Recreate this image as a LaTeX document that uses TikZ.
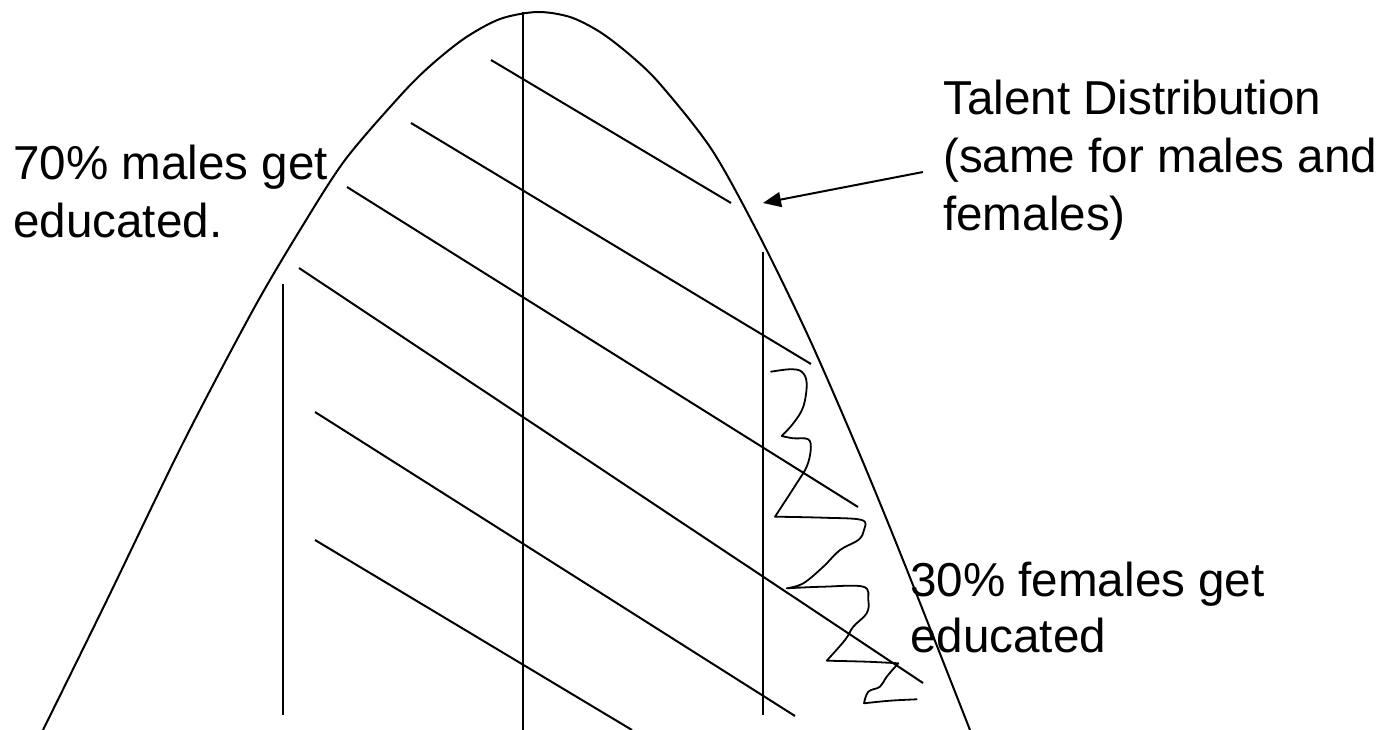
\documentclass[tikz,border=0pt]{standalone}
\usepackage{fontspec}
\setmainfont{Liberation Sans}
\usetikzlibrary{arrows.meta}
\begin{document}
\begin{tikzpicture}[x=1pt,y=-1pt,
  ink/.style={line width=2pt, black},
  hand/.style={line width=1.8pt, black, line join=round, line cap=round},
  lbl/.style={anchor=base west, inner sep=0pt, font=\fontsize{47.6}{58}\selectfont},
  pointer/.style={line width=2pt, -{Triangle[length=18pt,width=15pt]}}]
\useasboundingbox (0,0) rectangle (1387,730);
% distribution curve
\draw[ink] plot[smooth, tension=0.5] coordinates {(43,730) (107,600) (183,443) (253,310) (300,230) (345,160) (400,96) (430,66) (465,38) (500,19) (537,12) (570,17) (600,32) (630,55) (660,84) (712,150) (760,237) (810,340) (860,455) (903,560) (970,730)};
% vertical lines
\draw[ink] (283,284) -- (283,715);
\draw[ink] (523,12) -- (523,730);
\draw[ink] (763,252) -- (763,715);
% hatching
\draw[ink] (491,60) -- (731,203);
\draw[ink] (411,123) -- (811,364);
\draw[ink] (347,187) -- (858,507);
\draw[ink] (299,268) -- (923,683);
\draw[ink] (315,412) -- (795,716);
\draw[ink] (315,540) -- (632,730);
% squiggle
\draw[hand] plot[smooth, tension=0.6] coordinates {(771,371.7) (790,369.3) (801.7,371.7) (806.7,383.3) (803.3,406.7) (793.3,423.3) (781.7,436)}
  -- plot[smooth, tension=0.6] coordinates {(781.7,436) (793.3,438.3) (808.3,439.3) (810.7,450) (806.7,466.7) (796.7,483.3) (775,516.7)}
  -- plot[smooth, tension=0.6] coordinates {(775,516.7) (823.3,517.7) (861.7,520) (864,530) (858.3,540) (840,550) (823.3,566.7) (803.3,583.3) (786.7,588.3)}
  -- plot[smooth, tension=0.6] coordinates {(786.7,588.3) (823.3,586.7) (863.3,586.7) (868.3,600) (866.7,613.3) (853.3,626.7) (845,640) (826.7,660.7)}
  -- plot[smooth, tension=0.6] coordinates {(826.7,660.7) (866.7,661.7) (898.3,663.3)}
  -- plot[smooth, tension=0.6] coordinates {(898.3,663.3) (886.7,676.7) (880,686.7) (868.3,691.7) (864,703.3)}
  -- plot[smooth, tension=0.6] coordinates {(864,703.3) (890,700.7) (916.7,699.3)};
% texts
\node[lbl] (m1) at (13,180) {70\% males get};
\node[lbl] (m2) at (13,238) {educated.};
\node[lbl] (t1) at (943,115) {Talent Distribution};
\node[lbl] (t2) at (943,173) {(same for males and};
\node[lbl] (t3) at (943,231) {females)};
\node[lbl] (f1) at (910,596) {30\% females get};
\node[lbl] (f2) at (910,652) {educated};
% arrow
\coordinate (tail) at (923,172);
\coordinate (tip) at (763,203);
\draw[pointer] (tail) -- (tip);
\end{tikzpicture}
\end{document}
